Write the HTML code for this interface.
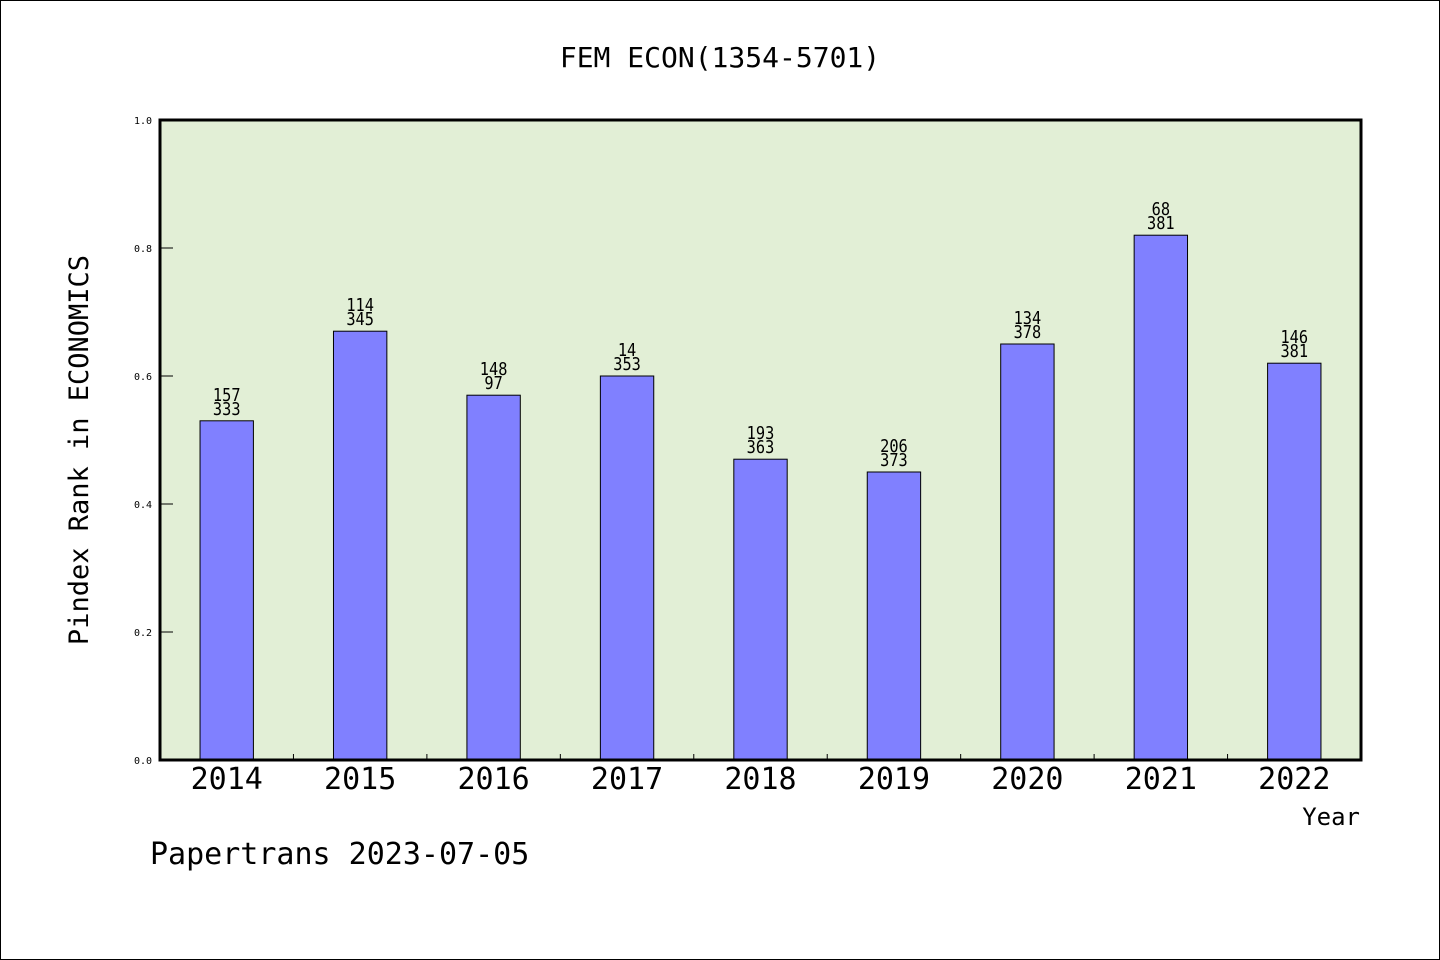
<!DOCTYPE html>
<html><head><meta charset="utf-8"><style>
html,body{margin:0;padding:0;background:#fff;}
svg{display:block;}
text{font-family:"DejaVu Sans Mono","Liberation Mono",monospace;fill:#000;}
</style></head><body>
<svg id="chart" width="1440" height="960">
<rect x="0.5" y="0.5" width="1439" height="959" fill="#fff" stroke="#000"/>
<text x="720" y="67" text-anchor="middle" font-size="28">FEM ECON(1354-5701)</text>
<rect x="160" y="120" width="1201" height="640" fill="#e2efd6"/>
<g id="bars"></g>
<rect x="160" y="120" width="1201" height="640" fill="none" stroke="#000" stroke-width="3"/>
<text transform="translate(88,450) rotate(-90)" text-anchor="middle" font-size="27">Pindex Rank in ECONOMICS</text>
<text x="1360" y="825" text-anchor="end" font-size="24">Year</text>
<text x="150" y="864" font-size="30">Papertrans 2023-07-05</text>
</svg>
<script>
const categories=["2014","2015","2016","2017","2018","2019","2020","2021","2022"];
const values=[0.53,0.67,0.57,0.60,0.47,0.45,0.65,0.82,0.62];
const ranks=["157","114","148","14","193","206","134","68","146"];
const totals=["333","345","97","353","363","373","378","381","381"];
const yTicks=[0,0.2,0.4,0.6,0.8,1.0];
const ns="http://www.w3.org/2000/svg";
const X0=160,W=1201,Y0=760,H=640;
const band=W/categories.length;
const y=v=>Y0-v*H;
const xc=i=>X0+band*(i+0.5);
const g=document.getElementById('bars');
function mk(t,a){const e=document.createElementNS(ns,t);for(const k in a)e.setAttribute(k,a[k]);g.appendChild(e);return e;}
yTicks.forEach(t=>{
 const l=mk('line',{x1:X0,x2:X0+13,y1:y(t),y2:y(t),stroke:'#000','stroke-width':1});
 
 
 const tx=mk('text',{x:X0-8,y:y(t)+4,'text-anchor':'end','font-size':10});
 tx.textContent=t.toFixed(1);
 
 
});
for(let i=1;i<categories.length;i++){
 const l=mk('line',{x1:X0+band*i,x2:X0+band*i,y1:Y0,y2:Y0-6,stroke:'#000','stroke-width':1});
 
 
}
categories.forEach((c,i)=>{
 const bw=band*0.4;
 const r=mk('rect',{x:xc(i)-bw/2,y:y(values[i]),width:bw,height:values[i]*H,fill:'#8080ff',stroke:'#000','stroke-width':1});
 
 
 const t1=mk('text',{x:xc(i),y:y(values[i])-20,'text-anchor':'middle','font-size':18,transform:`translate(${xc(i)},0) scale(0.85,1) translate(${-xc(i)},0)`});
 t1.textContent=ranks[i];
 
 
 const t2=mk('text',{x:xc(i),y:y(values[i])-6,'text-anchor':'middle','font-size':18,transform:`translate(${xc(i)},0) scale(0.85,1) translate(${-xc(i)},0)`});
 t2.textContent=totals[i];
 
 
 const xl=mk('text',{x:xc(i),y:Y0+29,'text-anchor':'middle','font-size':30});
 xl.textContent=c;
 
 
});
</script>
</body></html>
